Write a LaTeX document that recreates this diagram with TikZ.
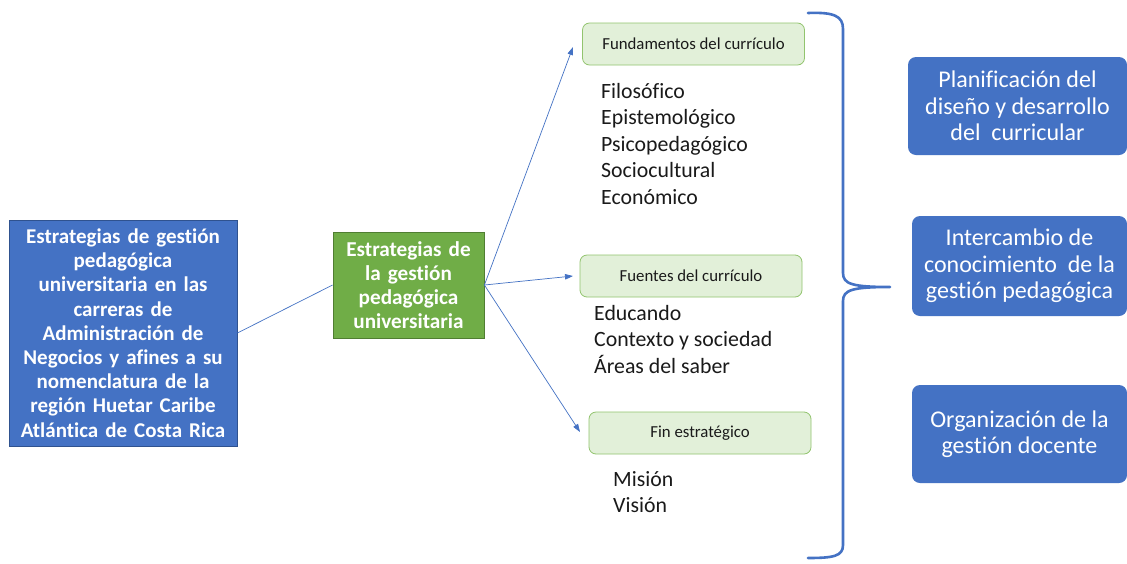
\documentclass[tikz,border=0pt]{standalone}
\usepackage{fontspec}
\setmainfont[Ligatures=NoCommon]{Carlito}
\usetikzlibrary{arrows.meta}
\definecolor{bluefill}{HTML}{4472C4}
\definecolor{blueline}{HTML}{2F528F}
\definecolor{greenfill}{HTML}{70AD47}
\definecolor{greenline}{HTML}{507E32}
\definecolor{lightgreen}{HTML}{E2F0D9}
\definecolor{lightgreenline}{HTML}{92C46E}
\definecolor{txt}{HTML}{1A1A1A}
\tikzset{
  bigbox/.style={draw=blueline, fill=bluefill, line width=0.8pt, text=white, align=center, inner sep=0pt,
    font=\fontsize{21}{24.2}\selectfont\bfseries},
  greenbox/.style={draw=greenline, fill=greenfill, line width=0.8pt, text=white, align=center, inner sep=0pt,
    font=\fontsize{21.2}{24}\selectfont\bfseries},
  labelbox/.style={draw=lightgreenline, fill=lightgreen, line width=0.8pt, rounded corners=7pt, text=txt,
    minimum width=222pt, minimum height=42pt, inner sep=0pt, font=\fontsize{16.8}{19}\selectfont},
  resbox/.style={fill=bluefill, rounded corners=8pt, text=white, align=center, inner sep=0pt,
    font=\fontsize{24}{26.5}\selectfont},
  listtext/.style={anchor=west, align=left, inner sep=0pt, text=txt, font=\fontsize{21.8}{26.5}\selectfont},
  conn/.style={draw=bluefill, line width=0.7pt},
  arr/.style={conn, -{Triangle[length=8pt,width=5.5pt]}},
  brace/.style={draw=bluefill, line width=2.6pt, line cap=round, line join=round}
}
\begin{document}
\begin{tikzpicture}[x=1pt,y=-1pt]
\useasboundingbox (0,0) rectangle (1127,563);
\fill[white] (0,0) rectangle (1127,563);

\node[bigbox, minimum width=228pt, minimum height=226pt, text width=224pt] (main) at (123,333)
  {Estrategias de gestión\\ pedagógica\\ universitaria en las\\ carreras de\\ Administración de\\ Negocios y afines a su\\ nomenclatura de la\\ región Huetar Caribe\\ Atlántica de Costa Rica};

\node[greenbox, minimum width=151pt, minimum height=106pt, text width=148pt] (g) at (408.5,285)
  {Estrategias de\\ la gestión\\ pedagógica\\ universitaria};

\node[labelbox] (fund) at (693.5,44) {Fundamentos del currículo};
\node[labelbox] (fuen) at (691,276) {Fuentes del currículo};
\node[labelbox] (fin) at (700,433) {Fin estratégico};

\node[listtext] (l1) at (601,144) {Filosófico\\ Epistemológico\\ Psicopedagógico\\ Sociocultural\\ Económico};
\node[listtext] (l2) at (594,339.5) {Educando\\ Contexto y sociedad\\ Áreas del saber};
\node[listtext] (l3) at (613,492) {Misión\\ Visión};

\node[resbox, minimum width=219pt, minimum height=98pt] (r1) at (1017.5,106)
  {Planificación del\\ diseño y desarrollo\\ del\ \ curricular};
\node[resbox, minimum width=215pt, minimum height=100pt] (r2) at (1019.5,266)
  {Intercambio de\\ conocimiento\ \ de la\\ gestión pedagógica};
\node[resbox, minimum width=215pt, minimum height=98pt] (r3) at (1019.5,434)
  {Organización de la\\ gestión docente};

\coordinate (t1) at (573,47);
\coordinate (t2) at (573,276);
\coordinate (t3) at (580,432);

\draw[conn] (main.east) -- (g.west);
\draw[arr] (g.east) -- (t1);
\draw[arr] (g.east) -- (t2);
\draw[arr] (g.east) -- (t3);

\draw[brace] (808,13) .. controls (834,12) and (843,16) .. (843,29) -- (843,273)
  .. controls (843,284) and (852,287) .. (890,287)
  .. controls (852,287) and (843,290) .. (843,301) -- (843,545)
  .. controls (843,556) and (834,558) .. (808,558);
\end{tikzpicture}
\end{document}
